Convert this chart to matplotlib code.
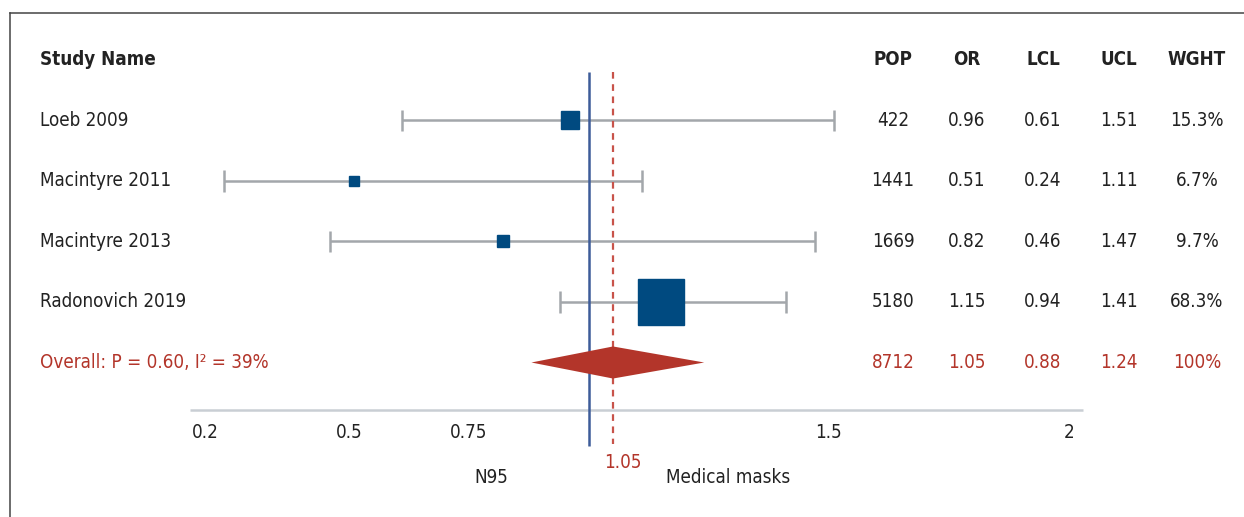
import matplotlib
matplotlib.use("Agg")
import matplotlib.pyplot as plt
from matplotlib.lines import Line2D
import numpy as np

plt.rcParams['font.family'] = ['DejaVu Sans']
plt.rcParams['font.stretch'] = 'condensed'

studies = ["Loeb 2009", "Macintyre 2011", "Macintyre 2013", "Radonovich 2019"]
pop = [422, 1441, 1669, 5180]
odds = [0.96, 0.51, 0.82, 1.15]
lcl = [0.61, 0.24, 0.46, 0.94]
ucl = [1.51, 1.11, 1.47, 1.41]
weight = [15.3, 6.7, 9.7, 68.3]

overall_label = "Overall: P = 0.60, I² = 39%"
overall_pop = 8712
overall_or = 1.05
overall_lcl = 0.88
overall_ucl = 1.24
overall_wght = "100%"

headers = ["POP", "OR", "LCL", "UCL", "WGHT"]
tick_vals = [0.2, 0.5, 0.75, 1.5, 2]

BLUE = "#004a80"
RED = "#b3352a"
LINE_BLUE = "#3d5c99"
GREY = "#a3a7ab"
TXT = "#222222"

W, H = 1244, 517
fig = plt.figure(figsize=(W / 100, H / 100), dpi=100)
ax = fig.add_axes([0, 0, 1, 1])
# x: linear, 0.2 -> 205 px, 480 px per unit ; y: row index, 60 px + 60.5 px per row
ax.set_xlim(0.2 - 205 / 480, 0.2 + (W - 205) / 480)
ax.set_ylim((H - 60) / 60.5, -60 / 60.5)
ax.axis("off")

def fx(px):
    return px / W

col_x = [893, 967, 1043, 1119, 1197]
fs = 13.5
tr = ax.get_yaxis_transform()

# header
ax.text(fx(40), 0, "Study Name", transform=tr, fontsize=fs,
        fontweight="bold", color=TXT, va="center", ha="left")
for h, cx in zip(headers, col_x):
    ax.text(fx(cx), 0, h, transform=tr, fontsize=fs,
            fontweight="bold", color=TXT, va="center", ha="center")

# reference lines
ax.vlines(1.0, 0.2, 6.38, color=LINE_BLUE, lw=1.8, zorder=2)
ax.vlines(overall_or, 0.2, 6.35, color="#c8534a", lw=1.6, linestyles=(0, (3, 2.5)), zorder=2)

# studies
sides = 2.9 * np.array(weight) ** 0.65
for i, name in enumerate(studies):
    y = i + 1
    ax.hlines(y, lcl[i], ucl[i], color=GREY, lw=1.8, zorder=1)
    ax.vlines([lcl[i], ucl[i]], y - 0.18, y + 0.18, color=GREY, lw=1.8, zorder=1)
    ax.plot(odds[i], y, marker="s", ms=sides[i] * 0.72, color=BLUE, mec=BLUE, zorder=3)
    ax.text(fx(40), y, name, transform=tr, fontsize=fs, color=TXT, va="center")
    vals = [str(pop[i]), f"{odds[i]:.2f}", f"{lcl[i]:.2f}", f"{ucl[i]:.2f}", f"{weight[i]:.1f}%"]
    for v, cx in zip(vals, col_x):
        ax.text(fx(cx), y, v, transform=tr, fontsize=fs, color=TXT, va="center", ha="center")

# overall diamond
yo = len(studies) + 1
ax.fill([overall_lcl, overall_or, overall_ucl, overall_or],
        [yo, yo - 0.265, yo, yo + 0.265], color=RED, lw=0, zorder=4)
ax.text(fx(40), yo, overall_label, transform=tr, fontsize=fs, color=RED, va="center")
ovals = [str(overall_pop), f"{overall_or:.2f}", f"{overall_lcl:.2f}", f"{overall_ucl:.2f}", overall_wght]
for v, cx in zip(ovals, col_x):
    ax.text(fx(cx), yo, v, transform=tr, fontsize=fs, color=RED, va="center", ha="center")

# x axis
ax_y = (410 - 60) / 60.5
ax.hlines(ax_y, 0.2 - 15 / 480, 2.03, color="#c9ced4", lw=1.8, zorder=0)
for t in tick_vals:
    ax.text(t, ax_y + 0.37, f"{t:g}", fontsize=fs, color=TXT, ha="center", va="center")

ax.text(overall_or + 0.02, 6.66, f"{overall_or:.2f}", fontsize=fs, color=RED, ha="center", va="center")
ax.text(0.796, 6.9, "N95", fontsize=fs, color=TXT, ha="center", va="center")
ax.text(1.29, 6.9, "Medical masks", fontsize=fs, color=TXT, ha="center", va="center")

# frame (top and left)
fig.add_artist(Line2D([10 / W, 1], [1 - 13 / H, 1 - 13 / H], color="#444444", lw=1.1))
fig.add_artist(Line2D([10 / W, 10 / W], [1 - 13 / H, 0], color="#444444", lw=1.1))

fig.savefig("out.png", dpi=100)
